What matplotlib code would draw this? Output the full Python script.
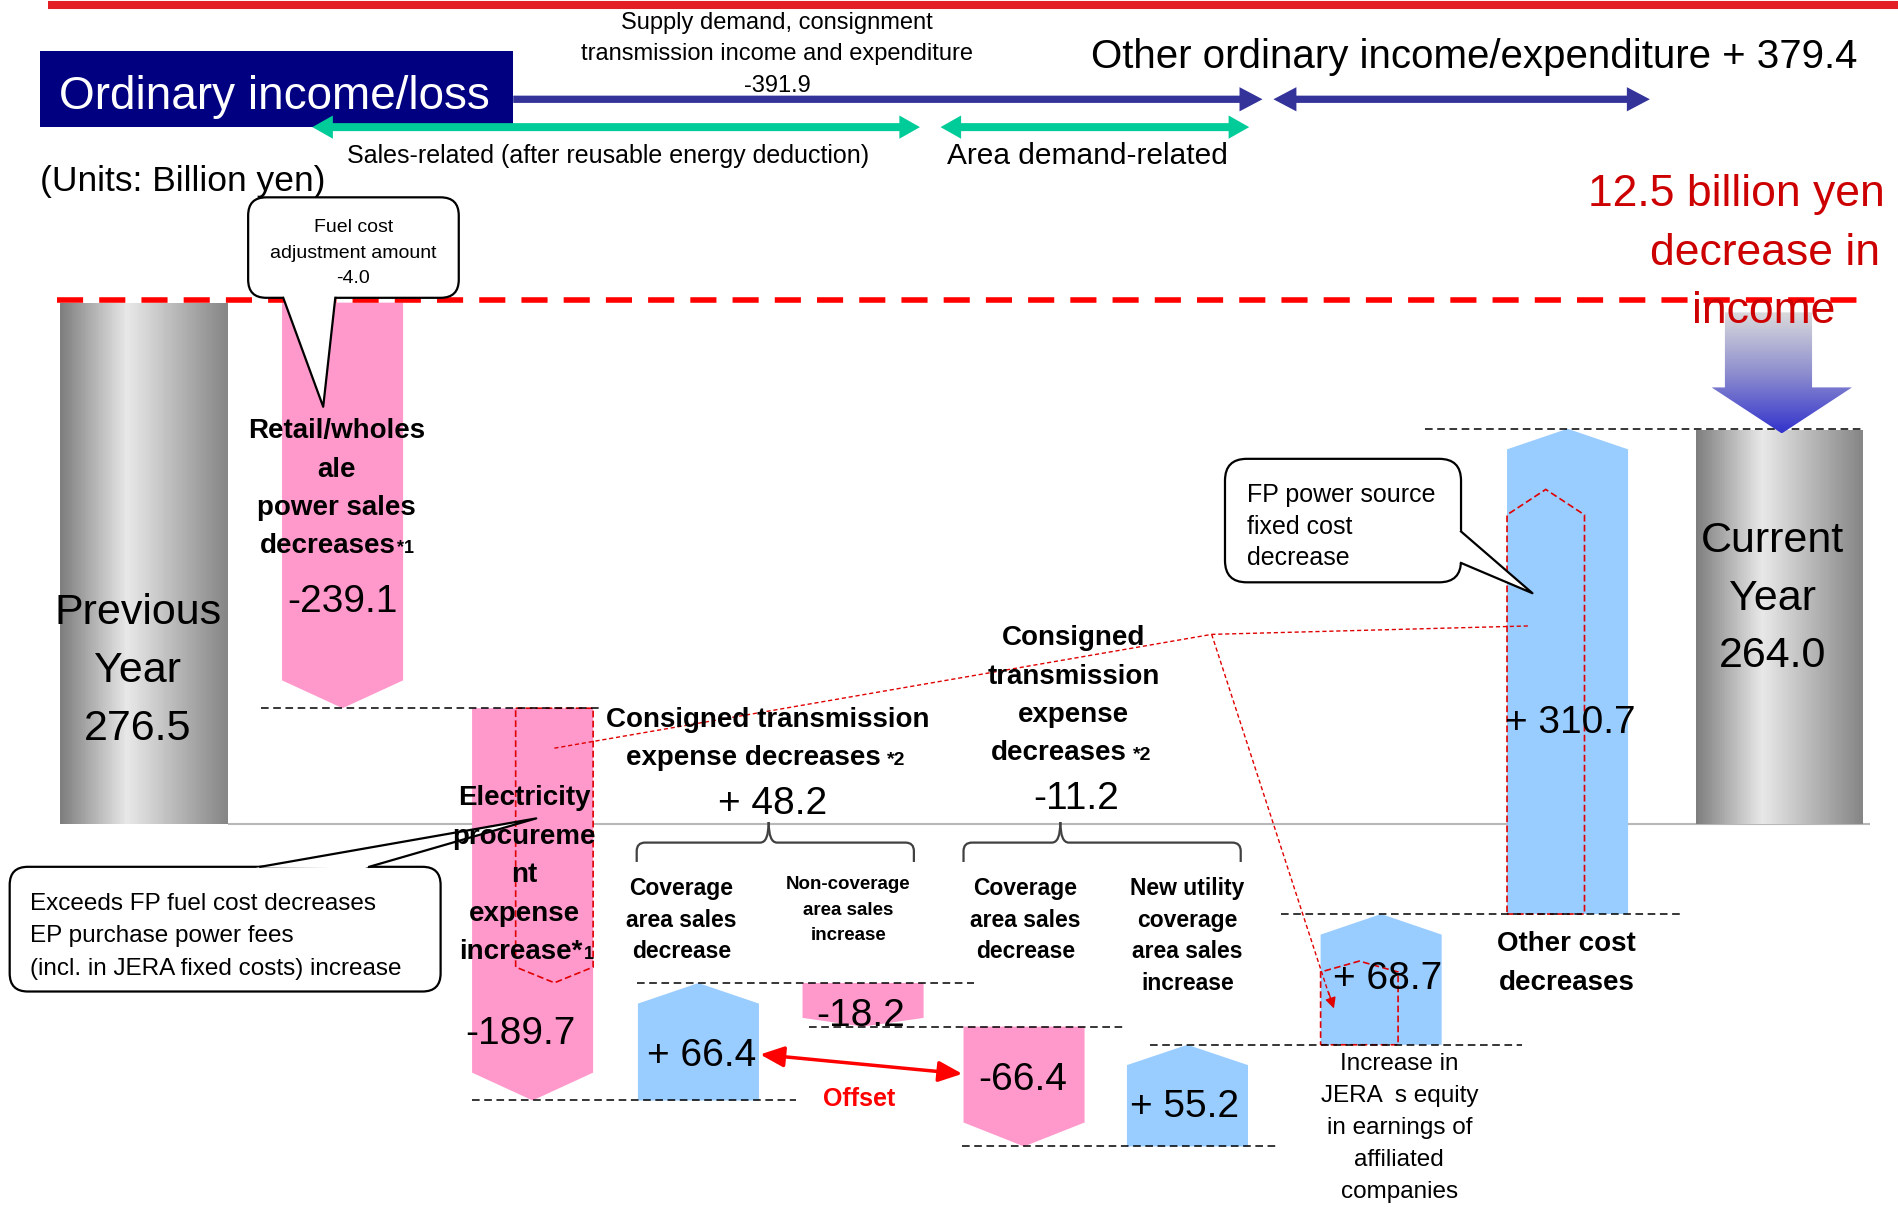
import numpy as np
import matplotlib
matplotlib.use("Agg")
import matplotlib.pyplot as plt
from matplotlib.patches import FancyBboxPatch, Polygon, PathPatch, Rectangle
from matplotlib.path import Path
from matplotlib.colors import LinearSegmentedColormap

plt.rcParams['font.family'] = ['Liberation Sans', 'DejaVu Sans']

# ---------------- data (billion yen) ----------------
steps = ['Previous Year', 'Retail/wholesale power sales decreases',
         'Electricity procurement expense increase',
         'Coverage area sales decrease', 'Non-coverage area sales increase',
         'Coverage area sales decrease', 'New utility coverage area sales increase',
         'Increase in JERA equity in earnings', 'Other cost decreases', 'Current Year']
values = [276.5, -239.1, -189.7, 66.4, -18.2, -66.4, 55.2, 68.7, 310.7, 264.0]
consigned_subtotals = [48.2, -11.2]
fuel_adjustment = -4.0
supply_demand_total = -391.9
other_ordinary_total = 379.4
income_decrease = 12.5

# part of a step that is outlined in red (share of the drawn height)
outline_share = {2: 0.70, 7: 0.64, 8: 0.875}

# the slide's vertical axis is schematic: break points value -> drawn height
axis_vals = np.array([-203.8, -170.5, -152.3, -115.3, -104.1, -85.9, -46.6, 0.0, 37.4, 264.0, 276.5, 443.2])
axis_pos = np.array([997, 947, 909, 863, 848, 812, 755, 681, 585, 355, 250, 0])

# ---------------- layout ----------------
bar_x = [119, 283, 440, 577, 713, 846, 981, 1141, 1295, 1470]
bar_w = [138, 100, 100, 100, 100, 100, 100, 100, 100, 138]
value_pos = [(283, 494), (430, 851), (580, 869), (711, 836), (845, 889), (979, 911), (1146, 806), (1297, 594)]
conn_span = [(216, 498), (390, 658), (526, 805), (668, 929), (795, 1054), (950, 1257), (1058, 1389), (1177, 1539)]
outline_style = {2: ('right', 13), 7: ('left', 9), 8: ('left', 21)}

PINK = '#ff99cc'
BLUE = '#99ccff'
NAVY = '#000080'
ARROW_BLUE = '#333399'
GREEN = '#00cc99'


def fwd(v):
    return -np.interp(v, axis_vals, axis_pos)


def inv(t):
    return np.interp(-np.asarray(t), axis_pos[::-1], axis_vals[::-1])


fig = plt.figure(figsize=(18.98, 12.07), dpi=100)
ax = fig.add_axes([0, 0, 1, 1])
ax.set_yscale('function', functions=(fwd, inv))
ax.axis('off')

ov = fig.add_axes([0, 0, 1, 1], label='overlay')
ov.axis('off')

# zero line behind the bars
ax.hlines(0, 188, 1545, colors='#b8b8b8', lw=1.5, zorder=0)

# ---------------- waterfall ----------------
level = 0.0
levels = []
for i, (v, x, w) in enumerate(zip(values, bar_x, bar_w)):
    l, r = x - w / 2, x + w / 2
    if i == 0 or i == len(values) - 1:
        n = 90
        fx = (np.arange(n) + 0.5) / n
        g = np.interp(fx, [0, 0.4, 1], [0.49, 0.91, 0.52])
        ax.bar(l + fx * w, v, width=w / n * 1.1, bottom=0,
               color=np.stack([g, g, g], axis=1), lw=0, zorder=2)
        if i == 0:
            level = v
        continue
    start, end = level, level + v
    level = end
    levels.append(end)
    color = PINK if v < 0 else BLUE
    depth = min(23 if v < 0 else 17, 0.2 * abs(fwd(end) - fwd(start)))
    sh = inv(fwd(end) - np.sign(v) * depth)
    ax.fill([l, r, r, x, l], [start, start, sh, end, sh], color=color, lw=0, zorder=2)

    if i in outline_share:
        side, d = outline_style[i]
        iw = 0.64 * w
        il, ir = (r - iw, r) if side == 'right' else (l, l + iw)
        ic = (il + ir) / 2
        ie = inv(fwd(start) + outline_share[i] * (fwd(end) - fwd(start)))
        ish = inv(fwd(ie) - np.sign(v) * d)
        ax.add_patch(Polygon(list(zip([il, ir, ir, ic, il], [start, start, ish, ie, ish])),
                             closed=True, fill=False, ec='#e00000', lw=1.2,
                             ls=(0, (4, 2)), zorder=3))

for lv, (x0, x1) in zip(levels, conn_span):
    ax.hlines(lv, x0, x1, colors='black', linestyles=(0, (5, 3)), lw=1.1, zorder=4)

ax.set_xlim(0, 1568)
ax.set_ylim(axis_vals[0], axis_vals[-1])


# ---------------- decorations ----------------
def h_arrow(x0, x1, y, half, head_half, head_len, color, left=True):
    pts = []
    if left:
        pts += [(x0, y), (x0 + head_len, y - head_half), (x0 + head_len, y - half)]
    else:
        pts += [(x0, y - half)]
    pts += [(x1 - head_len, y - half), (x1 - head_len, y - head_half), (x1, y),
            (x1 - head_len, y + head_half), (x1 - head_len, y + half)]
    if left:
        pts += [(x0 + head_len, y + half), (x0 + head_len, y + head_half)]
    else:
        pts += [(x0, y + half)]
    ov.add_patch(Polygon(pts, closed=True, fc=color, ec='none', zorder=4))


def callout(x, y, w, h, b1, b2, tip, r=15):
    ov.add_patch(FancyBboxPatch((x, y), w, h, boxstyle=f'round,pad=0,rounding_size={r}',
                                fc='white', ec='black', lw=1.6, zorder=6))
    t = np.array(tip, float)
    ext = []
    for b in (b1, b2):
        b = np.array(b, float)
        u = (b - t) / np.linalg.norm(b - t)
        ext.append(b + 4 * u)
    ov.add_patch(Polygon([ext[0], t, ext[1]], closed=True, fc='white', ec='none', zorder=7))
    ov.plot([b1[0], tip[0], b2[0]], [b1[1], tip[1], b2[1]], color='black', lw=1.6, zorder=7)


def brace(x0, x1, xm, ytip, ymid, yend, rr=7):
    for xe, s in ((x0, 1), (x1, -1)):
        verts = [(xe, yend), (xe, ymid + rr), (xe, ymid), (xe + s * rr, ymid),
                 (xm - s * rr, ymid), (xm, ymid), (xm, ytip)]
        codes = [Path.MOVETO, Path.LINETO, Path.CURVE3, Path.CURVE3,
                 Path.LINETO, Path.CURVE3, Path.CURVE3]
        ov.add_patch(PathPatch(Path(verts, codes), fill=False, ec='#404040', lw=1.6, zorder=5))


def put(x, y, s, size, bold=False, color='black', ha='center', va='center'):
    if va == 'center':
        y += 3   # visual centre of the glyphs sits a little below the text box centre
    ov.text(x, y, s, fontsize=size, fontweight='bold' if bold else 'normal',
            color=color, ha=ha, va=va, zorder=10)


def stack(x, y0, dy, lines, size, **kw):
    for k, s in enumerate(lines):
        put(x, y0 + k * dy, s, size, **kw)


def fmt(v):
    return f'+ {v:.1f}' if v > 0 else f'-{abs(v):.1f}'


# previous-year level
ov.plot([47, 1545], [247.5, 247.5], color='#ff0000', lw=4, ls=(0, (4.7, 2.9)),
        solid_capstyle='butt', zorder=5)

# top rule and title block
ov.plot([40, 1568], [4.2, 4.2], color='#e31e24', lw=5.8, solid_capstyle='butt', zorder=3)
ov.add_patch(Rectangle((33, 42), 391, 63, fc=NAVY, ec='none', zorder=3))
put(227, 77, 'Ordinary income/loss', 33, color='white')

h_arrow(424, 1043, 82, 3.0, 10, 19, ARROW_BLUE, left=False)
h_arrow(1052, 1363, 82, 3.0, 10, 19, ARROW_BLUE)
h_arrow(258, 760, 105, 3.3, 9.6, 17, GREEN)
h_arrow(777, 1032, 105, 3.3, 9.6, 17, GREEN)

stack(642, 16, 26, ['Supply demand, consignment', 'transmission income and expenditure',
                    f'{supply_demand_total:.1f}'], 17)
put(901, 44, f'Other ordinary income/expenditure + {other_ordinary_total:.1f}', 29, ha='left')
put(502, 126, 'Sales-related (after reusable energy deduction)', 18)
put(898, 126, 'Area demand-related', 21.5)
put(33, 147, '(Units: Billion yen)', 25.5, ha='left')

RED_TXT = '#cc0000'
put(1557, 158, f'{income_decrease} billion yen', 32, color=RED_TXT, ha='right')
put(1553, 206, 'decrease in', 32, color=RED_TXT, ha='right')
put(1457, 254, 'income', 32, color=RED_TXT)

# gradient arrow down to current year
arrow_pts = [(1425, 258), (1497, 258), (1497, 320), (1530, 320), (1472, 358), (1414, 320), (1425, 320)]
clip = Polygon(arrow_pts, closed=True, fc='none', ec='none')
ov.add_patch(clip)
cmap = LinearSegmentedColormap.from_list('ab', ['#dcdcdc', '#8f8fcf', '#3333cc'])
im = ov.imshow(np.linspace(0, 1, 256).reshape(-1, 1), extent=(1414, 1530, 358, 258),
               cmap=cmap, aspect='auto', zorder=3)
im.set_clip_path(clip)

# callouts
callout(205, 163, 174, 83, (234, 246), (277, 246), (267, 336))
stack(292, 185, 21, ['Fuel cost', 'adjustment amount', f'{fuel_adjustment:.1f}'], 14)

callout(8, 716, 356, 103, (215, 716), (305, 716), (443, 676))
stack(25, 744, 26.5, ['Exceeds FP fuel cost decreases', 'EP purchase power fees',
                      '(incl. in JERA fixed costs) increase'], 17.5, ha='left')

callout(1012, 379, 195, 102, (1207, 439), (1207, 465), (1266, 490), r=18)
stack(1030, 406, 26, ['FP power source', 'fixed cost', 'decrease'], 18, ha='left')

# red dotted pointers
ov.plot([458, 1001, 1264], [618, 524, 517], color='#e00000', lw=1, ls=(0, (3, 2)), zorder=8)
ov.plot([1001, 1100], [524, 828], color='#e00000', lw=1, ls=(0, (3, 2)), zorder=8)
ov.annotate('', xy=(1102, 833), xytext=(1097.6, 819.7),
            arrowprops=dict(arrowstyle='-|>', color='#e00000', lw=1, mutation_scale=16,
                            shrinkA=0, shrinkB=0), zorder=8)

# braces and offset arrow
brace(526, 755, 635, 679, 696, 712)
brace(796, 1025, 876, 679, 696, 712)
ov.annotate('', xy=(795, 887), xytext=(628, 871),
            arrowprops=dict(arrowstyle='<|-|>,head_length=0.8,head_width=0.35', color='#ff0000',
                            lw=2.5, mutation_scale=18, shrinkA=0, shrinkB=0), zorder=8)
put(710, 905, 'Offset', 18, bold=True, color='#ff0000')

# totals
stack(114, 503, 48, ['Previous', 'Year', f'{values[0]:.1f}'], 31)
stack(1464, 444, 47.5, ['Current', 'Year', f'{values[-1]:.1f}'], 31)

# step values
for v, (x, y) in zip(values[1:-1], value_pos):
    put(x, y, fmt(v), 28)

# step labels
stack(278, 353, 32, ['Retail/wholes', 'ale', 'power sales'], 20, bold=True)
put(327, 457, 'decreases', 20, bold=True, ha='right', va='baseline')
put(328, 457, '*1', 13, bold=True, ha='left', va='baseline')

stack(433, 656, 32, ['Electricity', 'procureme', 'nt', 'expense'], 20, bold=True)
put(481, 792, 'increase*', 20, bold=True, ha='right', va='baseline')
put(482, 792, '1', 13, bold=True, ha='left', va='baseline')

put(634, 592, 'Consigned transmission', 20, bold=True)
put(728, 632, 'expense decreases', 20, bold=True, ha='right', va='baseline')
put(733, 632, '*2', 14, bold=True, ha='left', va='baseline')
put(638, 661, fmt(consigned_subtotals[0]), 28)

stack(887, 524, 32, ['Consigned', 'transmission', 'expense'], 20, bold=True)
put(931, 628, 'decreases', 20, bold=True, ha='right', va='baseline')
put(936, 628, '*2', 14, bold=True, ha='left', va='baseline')
put(889, 657, fmt(consigned_subtotals[1]), 28)

stack(563, 731, 26, ['Coverage', 'area sales', 'decrease'], 16.5, bold=True)
stack(701, 728, 21, ['Non-coverage', 'area sales', 'increase'], 13.5, bold=True)
stack(847, 731, 26, ['Coverage', 'area sales', 'decrease'], 16.5, bold=True)
stack(981, 731, 26, ['New utility', 'coverage', 'area sales', 'increase'], 16.5, bold=True)

stack(1294, 777, 32, ['Other cost', 'decreases'], 20, bold=True)
stack(1156, 876, 26.5, ['Increase in', 'JERA  s equity', 'in earnings of', 'affiliated', 'companies'], 17.5)

ov.set_xlim(0, 1568)
ov.set_ylim(997, 0)

fig.savefig('out.png', dpi=100)
